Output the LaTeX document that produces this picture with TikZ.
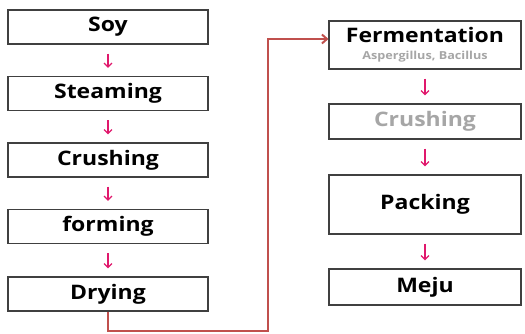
\documentclass[tikz,border=0pt]{standalone}
\usepackage{fontspec}
\setmainfont{Open Sans}[FakeStretch=1.15]
\usetikzlibrary{arrows.meta}
\definecolor{boxline}{HTML}{404040}
\definecolor{flowpink}{HTML}{E0186C}
\definecolor{linkred}{HTML}{C0504D}
\definecolor{lightgrey}{HTML}{A6A6A6}
\begin{document}
\begin{tikzpicture}[x=1pt,y=-1pt,
  stage/.style={draw=boxline, line width=1.1pt, fill=white, inner sep=0pt,
    font=\bfseries\fontsize{20}{22}\selectfont},
  leftstage/.style={stage, minimum width=200pt, minimum height=34pt},
  rightstage/.style={stage, minimum width=192pt},
  pinkarrow/.style={draw=flowpink, line width=1.3pt, -{Straight Barb[length=4pt,width=8pt]},
    shorten <=9pt, shorten >=8pt},
  redlink/.style={draw=linkred, line width=2pt, -{Straight Barb[length=5pt,width=9pt]}}]
\useasboundingbox (0,0) rectangle (525,333);

% left column
\node[leftstage] (soy) at (108,27) {Soy};
\node[leftstage] (steaming) at (108,93.5) {Steaming};
\node[leftstage] (crushing) at (108,160) {Crushing};
\node[leftstage] (forming) at (108,226.5) {forming};
\node[leftstage] (drying) at (108,294) {Drying};

% right column
\node[rightstage, minimum height=48pt, align=center] (fermentation) at (425,45)
  {Fermentation\\[-5pt]{\fontsize{11}{12}\selectfont\color{lightgrey}Aspergillus, Bacillus}};
\node[rightstage, minimum height=35pt, text=lightgrey] (regrind) at (425,121.5) {Crushing};
\node[rightstage, minimum height=59pt] (packing) at (425,204.5) {Packing};
\node[rightstage, minimum height=36pt] (meju) at (425,287) {Meju};

\foreach \a/\b in {soy/steaming, steaming/crushing, crushing/forming, forming/drying,
  fermentation/regrind, regrind/packing, packing/meju}
  \draw[pinkarrow] (\a) -- (\b);

\coordinate (bend) at (268,331);
\draw[redlink] (drying.south) |- (bend) |- ([yshift=6pt]fermentation.west);

\end{tikzpicture}
\end{document}
